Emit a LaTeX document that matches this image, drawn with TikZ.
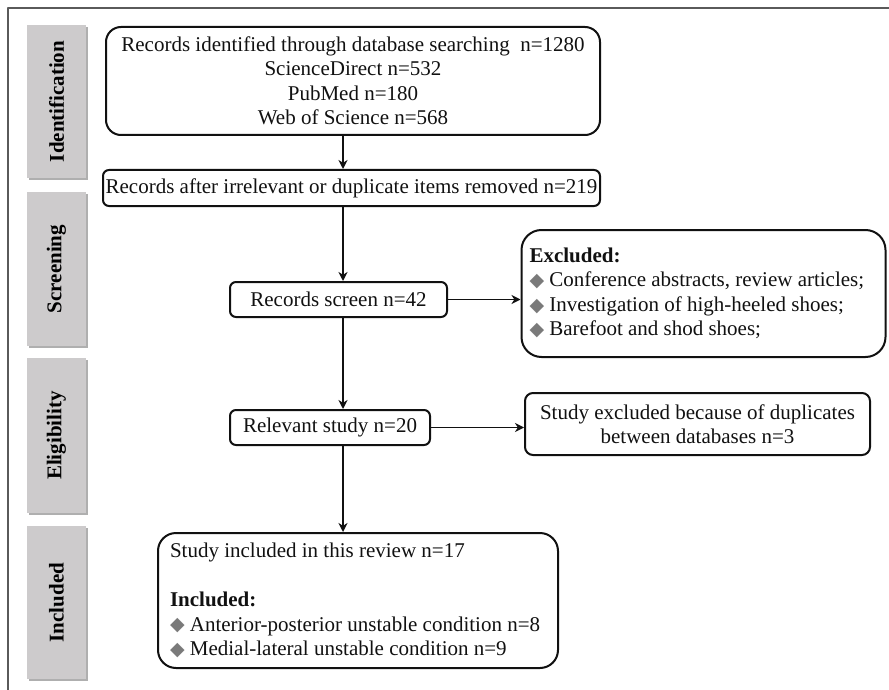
\documentclass[tikz,border=0pt]{standalone}
\usepackage{fontspec}
\setmainfont{Liberation Serif}
\newfontfamily\symfont{DejaVu Sans}
\usepackage{xcolor}
\usepackage{graphicx}
\usepackage{tikz}
\usetikzlibrary{arrows.meta,positioning,calc,shadows}
\definecolor{ink}{HTML}{111111}
\definecolor{framegray}{HTML}{5A5A5A}
\definecolor{stagefill}{HTML}{CDCBCC}
\definecolor{stageshadow}{HTML}{6E6E6E}
\definecolor{bulletgray}{HTML}{7A7A7A}
\newcommand{\bul}{{\color{bulletgray}\symfont\fontsize{9.5}{8}\selectfont\raisebox{0.2pt}{◆}}\ }
\tikzset{
    every picture/.style={line cap=round,line join=round},
    basefont/.style={font=\fontsize{10.5}{12.25}\selectfont},
    stagebox/.style={fill=stagefill,draw=none,minimum width=29.5pt,inner sep=0pt,
      drop shadow={shadow xshift=0.8pt,shadow yshift=-1pt,opacity=0.55,fill=stageshadow},
      font=\fontsize{10.5}{12.25}\selectfont\bfseries},
    flowbox/.style={draw=ink,fill=white,line width=1pt,rounded corners=3pt,
      inner sep=0pt,align=center,basefont,text=ink},
    notebox/.style={flowbox,align=flush left,inner xsep=6pt},
    flowarrow/.style={-{Stealth[length=4.5pt,width=4.5pt,inset=1.4pt]},draw=ink,
      line width=0.8pt}
}
\begin{document}
\begin{tikzpicture}[x=0.5pt,y=-0.5pt]
  \useasboundingbox (0,0) rectangle (889,690);
  % frame
  \draw[framegray,line width=1pt] (8,690) -- (8,8.5) -- (889,8.5);

  % stage labels
  \node[stagebox,minimum height=76.5pt] (sident) at (56.5,101.5) {\rotatebox{90}{Identification}};
  \node[stagebox,minimum height=77pt] (sscreen) at (56.5,269) {\rotatebox{90}{Screening}};
  \node[stagebox,minimum height=77.5pt] (selig) at (56.5,435.5) {\rotatebox{90}{Eligibility}};
  \node[stagebox,minimum height=76.5pt] (sincl) at (56.5,602.5) {\rotatebox{90}{Included}};

  % main column
  \coordinate (spine) at (343,0);
  \node[flowbox,rounded corners=7.5pt,minimum width=247pt,minimum height=54pt] (ident) at (353,81)
    {Records identified through database searching\ \ n=1280\\ScienceDirect n=532\\PubMed n=180\\Web of Science n=568};
  \node[flowbox,minimum width=248.5pt,minimum height=18pt] (dedup) at (351.5,188)
    {Records after irrelevant or duplicate items removed n=219};
  \node[flowbox,minimum width=108.5pt,minimum height=17.5pt] (screen) at (338.5,299.5) {Records screen n=42};
  \node[flowbox,minimum width=100pt,minimum height=17.5pt] (relev) at (330,427.5) {Relevant study n=20};
  \node[notebox,rounded corners=9pt,minimum width=200pt,minimum height=67.5pt,text width=188pt] (incl) at (358,600.5)
    {Study included in this review n=17\\[12.25pt]\textbf{Included:}\\\bul Anterior-posterior unstable condition n=8\\\bul Medial-lateral unstable condition n=9};

  % side boxes
  \node[notebox,inner xsep=4pt,rounded corners=10pt,minimum width=181.5pt,minimum height=63.5pt,text width=174pt] (excl) at (703.5,293.5)
    {\textbf{Excluded:}\\\bul Conference abstracts, review articles;\\\bul Investigation of high-heeled shoes;\\\bul Barefoot and shod shoes;};
  \node[flowbox,rounded corners=4pt,minimum width=172.5pt,minimum height=31pt] (dupl) at (697.5,424)
    {Study excluded because of duplicates\\between databases n=3};

  % arrows
  \draw[flowarrow] (ident.south -| spine) -- (dedup.north -| spine);
  \draw[flowarrow] (dedup.south -| spine) -- (screen.north -| spine);
  \draw[flowarrow] (screen.south -| spine) -- (relev.north -| spine);
  \draw[flowarrow] (relev.south -| spine) -- (incl.north -| spine);
  \draw[flowarrow] (screen.east) -- (excl.west |- screen.east);
  \draw[flowarrow] (relev.east) -- (dupl.west |- relev.east);
\end{tikzpicture}
\end{document}
